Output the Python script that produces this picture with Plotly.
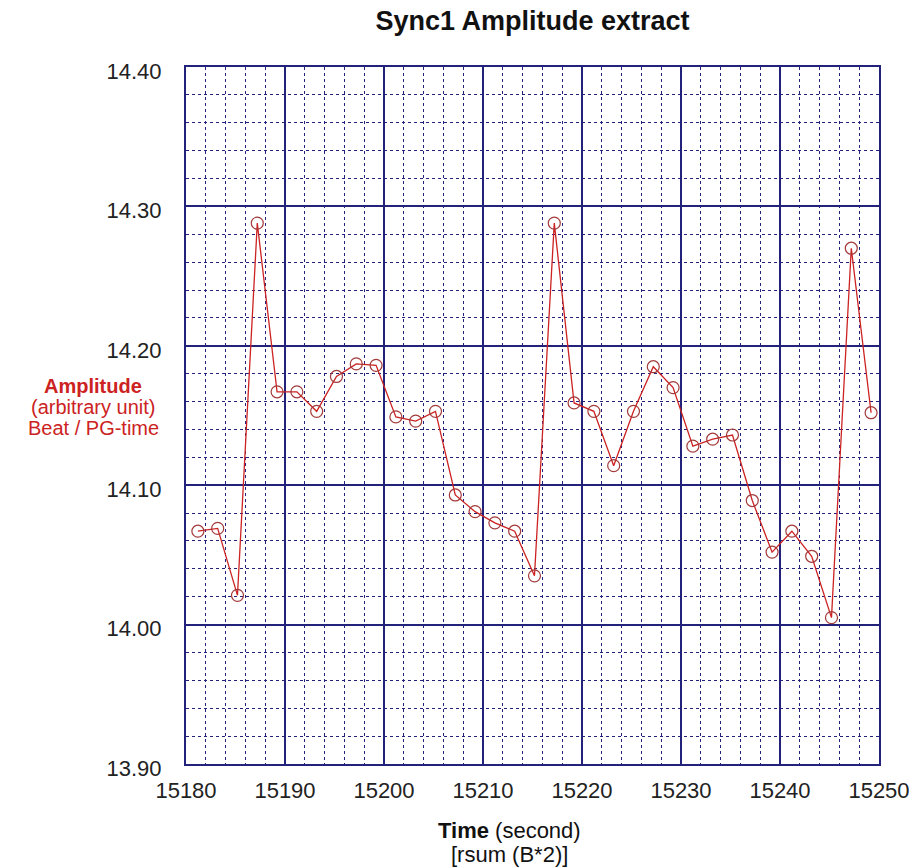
import plotly.graph_objects as go

time_s = [15181.2, 15183.2, 15185.2, 15187.2, 15189.2, 15191.2, 15193.2, 15195.2,
          15197.2, 15199.2, 15201.2, 15203.2, 15205.2, 15207.2, 15209.2, 15211.2,
          15213.2, 15215.2, 15217.2, 15219.2, 15221.2, 15223.2, 15225.2, 15227.2,
          15229.2, 15231.2, 15233.2, 15235.2, 15237.2, 15239.2, 15241.2, 15243.2,
          15245.2, 15247.2, 15249.2]
amplitude = [14.067, 14.069, 14.021, 14.288, 14.167, 14.167, 14.153, 14.178,
             14.187, 14.186, 14.149, 14.146, 14.153, 14.093, 14.081, 14.073,
             14.067, 14.035, 14.288, 14.159, 14.153, 14.114, 14.153, 14.185,
             14.170, 14.128, 14.133, 14.136, 14.089, 14.052, 14.067, 14.049,
             14.005, 14.270, 14.152]

x_ticks = [15180, 15190, 15200, 15210, 15220, 15230, 15240, 15250]
y_ticks = [13.90, 14.00, 14.10, 14.20, 14.30, 14.40]

NAVY = "#22227a"
FONT = "Liberation Sans, Arial, Helvetica, sans-serif"
W, H = 917, 867
L, R, T, B = 186, 38, 67, 103
PW, PH = W - L - R, H - T - B


def px(xp):
    return (xp - L) / PW


def py(yp):
    return (H - B - yp) / PH


fig = go.Figure()
fig.add_trace(go.Scatter(
    x=time_s, y=amplitude, mode="lines+markers",
    line=dict(color="#cc2222", width=1.3),
    marker=dict(symbol="circle-open", size=12, color="#a33a3a", line=dict(width=1.2, color="#a33a3a")),
    showlegend=False,
))

fig.update_layout(
    width=W, height=H,
    margin=dict(l=L, r=R, t=T, b=B),
    paper_bgcolor="white", plot_bgcolor="white",
    font=dict(family=FONT, size=22, color="#222222"),
    title=dict(text="<b>Sync1 Amplitude extract</b>", xref="paper", x=0.5, xanchor="center",
               y=1 - 21 / H, yanchor="middle", font=dict(size=27, color="#111111")),
    xaxis=dict(
        range=[15180, 15250], tickvals=x_ticks, ticktext=[str(v) for v in x_ticks],
        showgrid=True, gridcolor=NAVY, gridwidth=1.6, zeroline=False,
        showline=True, linecolor=NAVY, linewidth=2, mirror=True,
        ticks="", ticklen=0, ticklabelstandoff=6, automargin=False,
        tickfont=dict(size=22),
        minor=dict(dtick=2, tick0=15180, showgrid=True, gridcolor=NAVY, griddash="dot", gridwidth=1.2),
    ),
    yaxis=dict(
        range=[13.90, 14.40], tickvals=y_ticks, ticktext=[f"{v:.2f}" for v in y_ticks],
        showgrid=True, gridcolor=NAVY, gridwidth=1.6, zeroline=False,
        showline=True, linecolor=NAVY, linewidth=2, mirror=True,
        ticks="", ticklen=0, ticklabelstandoff=18, ticklabelshift=4, automargin=False,
        tickfont=dict(size=22),
        minor=dict(dtick=0.02, tick0=13.90, showgrid=True, gridcolor=NAVY, griddash="dot", gridwidth=1.2),
    ),
)

ylab = [("<b>Amplitude</b>", 386), ("(arbitrary unit)", 407), ("Beat / PG-time", 428)]
for txt, yc in ylab:
    fig.add_annotation(
        text=txt, xref="paper", yref="paper", x=px(93), y=py(yc),
        xanchor="center", yanchor="middle", showarrow=False,
        font=dict(family=FONT, size=20, color="#cc2222"),
    )

xlab = [("<b>Time</b> (second)", 830), ("[rsum (B*2)]", 854)]
for txt, yc in xlab:
    fig.add_annotation(
        text=txt, xref="paper", yref="paper", x=px(509), y=py(yc),
        xanchor="center", yanchor="middle", showarrow=False,
        font=dict(family=FONT, size=22, color="#111111"),
    )

fig.write_html("out.html")
